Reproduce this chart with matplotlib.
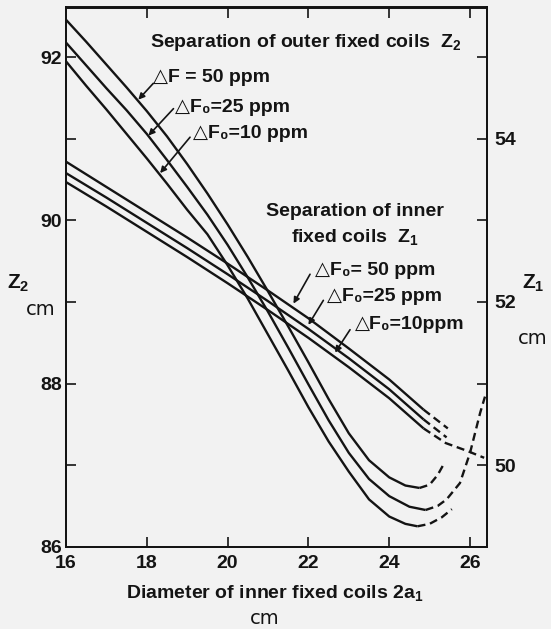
import numpy as np
import matplotlib
matplotlib.use("Agg")
import matplotlib.pyplot as plt

plt.rcParams['font.family'] = ['Liberation Sans', 'DejaVu Sans']
plt.rcParams['mathtext.fontset'] = 'custom'
plt.rcParams['mathtext.rm'] = 'Liberation Sans:bold'
plt.rcParams['mathtext.it'] = 'Liberation Sans:bold'
plt.rcParams['mathtext.bf'] = 'Liberation Sans:bold'

INK = "#141414"
BG = "#f2f2f2"

# separation of outer fixed coils Z2 (left axis, cm), solid part
out50_x = [16.0, 16.5, 17.0, 17.5, 18.0, 18.5, 19.0, 19.5, 20.0, 20.5, 21.0, 21.5, 22.0, 22.5, 23.0, 23.5, 24.0, 24.4, 24.75]
out50_z = [92.46, 92.19, 91.91, 91.63, 91.34, 91.03, 90.69, 90.33, 89.95, 89.55, 89.13, 88.70, 88.26, 87.81, 87.39, 87.06, 86.85, 86.75, 86.72]
out25_x = [16.0, 16.5, 17.0, 17.5, 18.0, 18.5, 19.0, 19.5, 20.0, 20.5, 21.0, 21.5, 22.0, 22.5, 23.0, 23.5, 24.0, 24.5, 24.9]
out25_z = [92.18, 91.90, 91.62, 91.35, 91.06, 90.74, 90.41, 90.07, 89.70, 89.30, 88.88, 88.44, 87.99, 87.55, 87.15, 86.83, 86.62, 86.49, 86.45]
out10_x = [16.0, 16.5, 17.0, 17.5, 18.0, 18.5, 19.0, 19.5, 20.0, 20.5, 21.0, 21.5, 22.0, 22.5, 23.0, 23.5, 24.0, 24.4, 24.7]
out10_z = [91.95, 91.65, 91.36, 91.06, 90.76, 90.45, 90.13, 89.83, 89.45, 89.04, 88.60, 88.16, 87.71, 87.29, 86.92, 86.58, 86.37, 86.28, 86.25]
# dashed extrapolations
out50_dx = [24.75, 25.0, 25.2, 25.38]
out50_dz = [86.72, 86.76, 86.88, 87.04]
out25_dx = [24.9, 25.2, 25.42, 25.75, 26.0, 26.25, 26.37]
out25_dz = [86.45, 86.50, 86.58, 86.78, 87.15, 87.64, 87.84]
out10_dx = [24.7, 25.0, 25.3, 25.55]
out10_dz = [86.25, 86.28, 86.36, 86.46]

# separation of inner fixed coils Z1 (right axis, cm)
in_x = [16.0, 17.0, 18.0, 19.0, 20.0, 21.0, 22.0, 23.0, 24.0, 24.85]
in50_z = [53.72, 53.41, 53.10, 52.79, 52.47, 52.14, 51.80, 51.43, 51.05, 50.68]
in25_z = [53.58, 53.28, 52.97, 52.66, 52.34, 52.01, 51.67, 51.31, 50.93, 50.56]
in10_z = [53.47, 53.17, 52.86, 52.55, 52.23, 51.90, 51.56, 51.20, 50.82, 50.45]
in50_dx = [24.85, 25.45]
in50_dz = [50.68, 50.45]
in25_dx = [24.85, 25.42]
in25_dz = [50.56, 50.34]
in10_dx = [24.85, 25.4, 25.9, 26.35]
in10_dz = [50.45, 50.27, 50.18, 50.09]

x_ticks = [16, 18, 20, 22, 24, 26]
z2_ticks = [86, 88, 90, 92]
z1_ticks = [50, 52, 54]

fig = plt.figure(figsize=(5.51, 6.29), dpi=100, facecolor=BG)
ax = fig.add_axes([66/551, 1-546.7/629, (487-66)/551, (546.7-7.5)/629])
ax.set_facecolor(BG)
ax.set_xlim(16, 26.42)
ax.set_ylim(86, 92.61)
ax2 = ax.twinx()
ax2.set_ylim(ax.get_ylim()[0]-37, ax.get_ylim()[1]-37)

lw = 1.7
dash = (3.4, 2.0)
for xs, zs in [(out50_x, out50_z), (out25_x, out25_z), (out10_x, out10_z)]:
    ax.plot(xs, zs, color=INK, lw=lw, solid_capstyle='butt')
for xs, zs in [(out50_dx, out50_dz), (out25_dx, out25_dz), (out10_dx, out10_dz)]:
    ax.plot(xs, zs, color=INK, lw=lw, dashes=dash)
for zs in [in50_z, in25_z, in10_z]:
    ax2.plot(in_x, zs, color=INK, lw=lw, solid_capstyle='butt')
for xs, zs in [(in50_dx, in50_dz), (in25_dx, in25_dz), (in10_dx, in10_dz)]:
    ax2.plot(xs, zs, color=INK, lw=lw, dashes=dash)

# ticks
tick_font = dict(fontsize=14, fontweight='bold')
ax.set_xticks(x_ticks)
ax.set_xticklabels([str(t) for t in x_ticks], **tick_font)
ax.set_yticks(z2_ticks)
ax.set_yticklabels([str(t) for t in z2_ticks], **tick_font)
ax.set_yticks(np.arange(86, 93), minor=True)
ax.tick_params(axis='x', which='both', direction='in', length=7, width=1.2,
               top=True, pad=6, colors=INK)
ax.tick_params(axis='y', which='both', direction='in', length=7, width=1.2,
               pad=3, colors=INK)
ax2.set_yticks(z1_ticks)
ax2.set_yticklabels([str(t) for t in z1_ticks], **tick_font)
ax2.set_yticks(np.arange(49, 56), minor=True)
ax2.tick_params(axis='y', which='both', direction='in', length=7, width=1.2,
                pad=5, colors=INK)
for a in (ax, ax2):
    for s in a.spines.values():
        s.set_linewidth(1.4)
        s.set_color(INK)

lab = dict(fontsize=14, fontweight='bold', color=INK)
ax.text(18.08, 92.18, "Separation of outer fixed coils  Z$_2$", ha='left', va='center', **lab)
ax.text(18.15, 91.75, "\u25b3F = 50 ppm", ha='left', va='center', **lab)
ax.text(18.70, 91.39, "\u25b3F\u2080=25 ppm", ha='left', va='center', **lab)
ax.text(19.14, 91.07, "\u25b3F\u2080=10 ppm", ha='left', va='center', **lab)

ax.text(23.15, 90.11, "Separation of inner", ha='center', va='center', **lab)
ax.text(23.15, 89.80, "fixed coils  Z$_1$", ha='center', va='center', **lab)
ax.text(22.16, 89.39, "\u25b3F\u2080= 50 ppm", ha='left', va='center', **lab)
ax.text(22.45, 89.07, "\u25b3F\u2080=25 ppm", ha='left', va='center', **lab)
ax.text(23.15, 88.72, "\u25b3F\u2080=10ppm", ha='left', va='center', **lab)

arrow = dict(arrowstyle='-|>', lw=1.2, color=INK, mutation_scale=9, shrinkA=0, shrinkB=0)
for tip, tail in [((17.79, 91.48), (18.16, 91.68)),
                  ((18.04, 91.04), (18.66, 91.37)),
                  ((18.33, 90.58), (19.07, 91.02)),
                  ((21.63, 88.98), (22.04, 89.34)),
                  ((22.0, 88.72), (22.37, 89.02)),
                  ((22.66, 88.38), (23.03, 88.66))]:
    ax.annotate("", xy=tip, xytext=tail, arrowprops=arrow)

side = dict(fontsize=14, color=INK, family='DejaVu Sans')
fig.text(18/551, 1-283/629, "Z$_2$", ha='center', va='center', fontsize=15, fontweight='bold', color=INK)
fig.text(41/551, 1-310/629, "cm", ha='center', va='center', **side)
fig.text(533/551, 1-283/629, "Z$_1$", ha='center', va='center', fontsize=15, fontweight='bold', color=INK)
fig.text(533/551, 1-338/629, "cm", ha='center', va='center', **side)
fig.text(275/551, 1-593/629, "Diameter of inner fixed coils 2a$_1$", ha='center', va='center', **lab)
fig.text(265/551, 1-618/629, "cm", ha='center', va='center', **side)

fig.savefig("out.png", dpi=100, facecolor=BG)
